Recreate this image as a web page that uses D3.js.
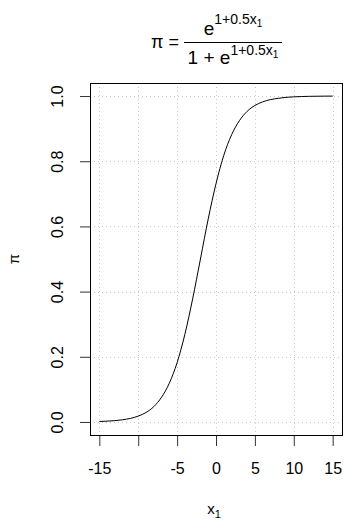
<!DOCTYPE html>
<html>
<head>
<meta charset="utf-8">
<script src="https://cdn.jsdelivr.net/npm/d3@7"></script>
<style>
  body { margin: 0; background: #fff; }
  svg { font-family: "Liberation Sans", Arial, sans-serif; }
</style>
</head>
<body>
<div id="chart"></div>
<script>
// curve values
var xVals = [-15, -14, -13, -12, -11, -10, -9, -8, -7, -6, -5, -4, -3, -2, -1, 0,
             1, 2, 3, 4, 5, 6, 7, 8, 9, 10, 11, 12, 13, 14, 15];
var piVals = [0.0015, 0.0025, 0.0041, 0.0067, 0.011, 0.018, 0.029, 0.047, 0.076, 0.119, 0.182,
              0.269, 0.378, 0.5, 0.623, 0.731, 0.818, 0.881, 0.924, 0.953, 0.971,
              0.982, 0.989, 0.993, 0.996, 0.9975, 0.9985, 0.9991, 0.9994, 0.9997, 0.9998];
var xTicks = [-15, -10, -5, 0, 5, 10, 15];
var xTickLabels = ["-15", "", "-5", "0", "5", "10", "15"];
var yTicks = [0, 0.2, 0.4, 0.6, 0.8, 1.0];

var width = 345, height = 521;
var box = { left: 90, right: 342, top: 83, bottom: 435 };

var svg = d3.select("#chart").append("svg")
  .attr("width", width)
  .attr("height", height);

var x = d3.scaleLinear().domain([-16.2, 16.2]).range([box.left, box.right]);
var y = d3.scaleLinear().domain([-0.04, 1.04]).range([box.bottom, box.top]);

///////////////////// grid /////////////////////
svg.append("g").selectAll("line")
  .data(xTicks).enter().append("line")
  .attr("x1", function(d) { return Math.round(x(d)) + 0.5; })
  .attr("x2", function(d) { return Math.round(x(d)) + 0.5; })
  .attr("y1", box.top).attr("y2", box.bottom)
  .attr("stroke", "#c8c8c8").attr("stroke-dasharray", "1,3");
svg.append("g").selectAll("line")
  .data(yTicks).enter().append("line")
  .attr("y1", function(d) { return Math.round(y(d)) + 0.5; })
  .attr("y2", function(d) { return Math.round(y(d)) + 0.5; })
  .attr("x1", box.left).attr("x2", box.right)
  .attr("stroke", "#c8c8c8").attr("stroke-dasharray", "1,3");

///////////////////// curve /////////////////////
var pts = xVals.map(function(v, i) { return [v, piVals[i]]; });
svg.append("path")
  .datum(pts)
  .attr("fill", "none")
  .attr("stroke", "#000")
  .attr("stroke-width", 1)
  .attr("d", d3.line()
    .x(function(d) { return x(d[0]); })
    .y(function(d) { return y(d[1]); })
    .curve(d3.curveMonotoneX));

///////////////////// axes /////////////////////
var xAxis = d3.axisBottom(x).tickValues(xTicks)
  .tickSize(11).tickPadding(17)
  .tickFormat(function(d, i) { return xTickLabels[i]; });
var gx = svg.append("g")
  .attr("transform", "translate(0," + box.bottom + ")")
  .call(xAxis);
gx.select(".domain").remove();
gx.selectAll("line").attr("stroke", "#333");
gx.selectAll("text").attr("font-size", "16px").attr("fill", "#000")
  .attr("font-family", "Liberation Sans, Arial, sans-serif");

var yAxis = d3.axisLeft(y).tickValues(yTicks)
  .tickSize(10).tickFormat(d3.format(".1f"));
var gy = svg.append("g")
  .attr("transform", "translate(" + box.left + ",0)")
  .call(yAxis);
gy.select(".domain").remove();
gy.selectAll("line").attr("stroke", "#333");
gy.selectAll("text")
  .attr("font-size", "16px").attr("fill", "#000")
  .attr("font-family", "Liberation Sans, Arial, sans-serif")
  .attr("x", 0).attr("dy", null)
  .attr("text-anchor", "middle")
  .attr("dominant-baseline", "central")
  .attr("transform", "translate(-33,0) rotate(-90)");

// box
svg.append("rect")
  .attr("x", box.left + 0.5).attr("y", box.top + 0.5)
  .attr("width", box.right - box.left).attr("height", box.bottom - box.top)
  .attr("fill", "none").attr("stroke", "#000");

///////////////////// labels /////////////////////
var xl = svg.append("text")
  .attr("x", (box.left + box.right) / 2 - 2)
  .attr("y", 514)
  .attr("text-anchor", "middle")
  .attr("font-size", "15px");
xl.append("tspan").text("x");
xl.append("tspan").attr("dy", 4).attr("font-size", "11px").text("1");

svg.append("text")
  .attr("transform", "translate(19," + (box.top + box.bottom) / 2 + ") rotate(-90)")
  .attr("text-anchor", "middle")
  .attr("font-size", "15px")
  .text("π");

// title formula
var cx = 233;
svg.append("text")
  .attr("x", 165).attr("y", 48)
  .attr("text-anchor", "middle")
  .attr("font-size", "18px")
  .text("π =");
svg.append("line")
  .attr("x1", 184).attr("x2", 282)
  .attr("y1", 42.5).attr("y2", 42.5)
  .attr("stroke", "#000").attr("stroke-width", 1);
var num = svg.append("text")
  .attr("x", cx).attr("y", 35)
  .attr("text-anchor", "middle")
  .attr("font-size", "19px");
num.append("tspan").text("e");
num.append("tspan").attr("dy", -11).attr("font-size", "14px").text("1+0.5x");
num.append("tspan").attr("dy", 3).attr("font-size", "10px").text("1");
var den = svg.append("text")
  .attr("x", cx).attr("y", 64)
  .attr("text-anchor", "middle")
  .attr("font-size", "19px");
den.append("tspan").text("1 + e");
den.append("tspan").attr("dy", -9).attr("font-size", "14px").text("1+0.5x");
den.append("tspan").attr("dy", 3).attr("font-size", "10px").text("1");
</script>
</body>
</html>
